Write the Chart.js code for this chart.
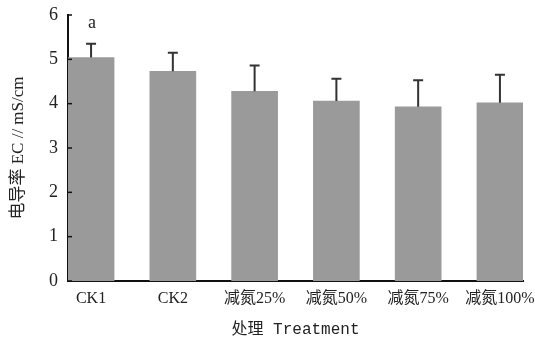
<!DOCTYPE html>
<html>
<head>
<meta charset="utf-8">
<script src="https://cdn.jsdelivr.net/npm/chart.js@4/dist/chart.umd.min.js"></script>
<style>
  html, body { margin: 0; padding: 0; background: #fff; }
  #wrap { width: 535px; height: 340px; }
</style>
</head>
<body>
<div id="wrap"><canvas id="ecChart" width="535" height="340"></canvas></div>
<script>
// 处理组
const treatments = ['CK1', 'CK2', '减氮25%', '减氮50%', '减氮75%', '减氮100%'];
// 电导率均值 mS/cm
const ecMean = [5.04, 4.73, 4.28, 4.06, 3.93, 4.02];
// 误差线上端 (均值 + SD)
const ecUpper = [5.35, 5.15, 4.86, 4.56, 4.53, 4.65];
// 显著性字母
const sigLetters = ['a', '', '', '', '', ''];
const yTicks = [0, 1, 2, 3, 4, 5, 6];

const serif = "'Liberation Serif', 'Noto Sans CJK SC', serif";
const mono = "'Liberation Mono', 'Noto Sans CJK SC', monospace";

// 误差线 + 字母 + 内向刻度
const extras = {
    id: 'extras',
    afterDatasetsDraw(chart) {
        const ctx = chart.ctx;
        const x = chart.scales.x, y = chart.scales.y;
        ctx.save();
        ctx.strokeStyle = '#333';
        ctx.lineWidth = 2;
        ecMean.forEach((v, i) => {
            const px = x.getPixelForValue(i);
            const top = y.getPixelForValue(ecUpper[i]);
            ctx.beginPath();
            ctx.moveTo(px, y.getPixelForValue(v));
            ctx.lineTo(px, top);
            ctx.moveTo(px - 5, top);
            ctx.lineTo(px + 5, top);
            ctx.stroke();
        });
        // 字母
        ctx.fillStyle = '#222';
        ctx.font = '18px ' + serif;
        ctx.textAlign = 'center';
        ctx.textBaseline = 'middle';
        sigLetters.forEach((s, i) => {
            if (!s) return;
            ctx.fillText(s, x.getPixelForValue(i) + 1, y.getPixelForValue(ecUpper[i]) - 21);
        });
        // y轴内向刻度
        ctx.strokeStyle = '#111';
        ctx.lineWidth = 1.5;
        yTicks.forEach(t => {
            const py = y.getPixelForValue(t);
            ctx.beginPath();
            ctx.moveTo(x.left, py);
            ctx.lineTo(x.left + 4, py);
            ctx.stroke();
        });
        ctx.restore();
    }
};

new Chart(document.getElementById('ecChart'), {
    type: 'bar',
    data: {
        datasets: [{
            data: ecMean.map((v, i) => ({ x: i, y: v })),
            backgroundColor: '#9a9a9a',
            borderWidth: 0,
            barThickness: 46
        }]
    },
    options: {
        responsive: false,
        animation: false,
        layout: { padding: { top: 15, right: 12, left: 0, bottom: 0 } },
        plugins: { legend: { display: false }, tooltip: { enabled: false } },
        scales: {
            x: {
                type: 'linear',
                min: -0.282,
                max: 5.282,
                offset: false,
                afterBuildTicks: s => { s.ticks = treatments.map((t, i) => ({ value: i })); },
                afterFit: s => { s.height = 59; s.paddingLeft = 0; s.paddingRight = 0; },
                grid: { display: false, drawTicks: false },
                border: { color: '#111', width: 2 },
                ticks: {
                    autoSkip: false,
                    maxRotation: 0,
                    padding: 8,
                    color: '#222',
                    font: { family: serif, size: 16 },
                    callback: v => treatments[v]
                },
                title: {
                    display: true,
                    text: '处理 Treatment',
                    color: '#222',
                    font: { family: mono, size: 16 },
                    padding: { top: 0, bottom: 1 }
                }
            },
            y: {
                min: 0,
                max: 6,
                afterBuildTicks: s => { s.ticks = yTicks.map(v => ({ value: v })); },
                afterFit: s => { s.width = 68; s.paddingTop = 0; s.paddingBottom = 0; },
                grid: { display: false, drawTicks: false },
                border: { color: '#111', width: 2 },
                ticks: {
                    padding: 10,
                    color: '#222',
                    font: { family: serif, size: 18 }
                },
                title: {
                    display: true,
                    text: '电导率 EC // mS/cm',
                    color: '#222',
                    font: { family: serif, size: 17 },
                    padding: { top: 8, bottom: 0 }
                }
            }
        }
    },
    plugins: [extras]
});
</script>
</body>
</html>
